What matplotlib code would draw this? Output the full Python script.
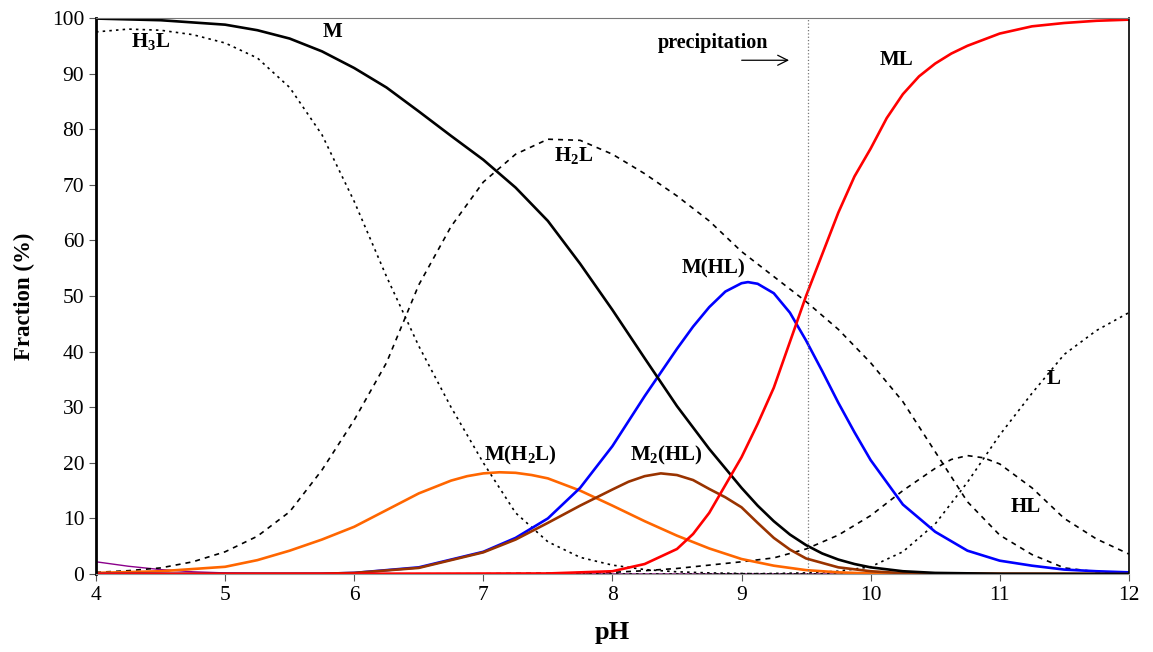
import numpy as np
import matplotlib.pyplot as plt

plt.rcParams['font.family'] = 'Liberation Serif'
plt.rcParams['mathtext.fontset'] = 'custom'
plt.rcParams['mathtext.rm'] = 'Liberation Serif:bold'
plt.rcParams['mathtext.it'] = 'Liberation Serif:bold'
plt.rcParams['mathtext.bf'] = 'Liberation Serif:bold'

# common pH grid (ligand species)
pH = [4.0, 4.25, 4.5, 4.75, 5.0, 5.25, 5.5, 5.75, 6.0, 6.25, 6.5, 6.75, 7.0,
      7.25, 7.5, 7.75, 8.0, 8.25, 8.5, 8.75, 9.0, 9.25, 9.5, 9.75, 10.0,
      10.25, 10.5, 10.75, 11.0, 11.25, 11.5, 11.75, 12.0]

H3L = [97.5, 98.0, 97.8, 97.0, 95.5, 92.8, 87.5, 79.0, 67.0, 53.5, 41.0, 30.0,
       20.0, 11.0, 5.8, 3.0, 1.6, 0.8, 0.4, 0.2, 0.1, 0, 0, 0, 0, 0, 0, 0, 0,
       0, 0, 0, 0]
H2L = [0.3, 0.6, 1.1, 2.2, 4.0, 6.8, 11.2, 18.7, 27.7, 38.0, 52.0, 62.5, 70.5,
       75.5, 78.2, 78.0, 75.5, 72.0, 68.0, 63.5, 58.0, 53.5, 49.0, 44.0, 38.0,
       31.0, 22.0, 13.0, 7.0, 3.5, 1.1, 0.4, 0.1]
L = [0, 0, 0, 0, 0, 0, 0, 0, 0, 0, 0, 0, 0, 0, 0, 0, 0, 0, 0, 0, 0.05, 0.1,
     0.2, 0.5, 1.3, 4.0, 9.0, 16.5, 25.0, 32.5, 39.5, 43.8, 47.0]
other = [2.2, 1.4, 0.8, 0.4, 0.2, 0.1, 0.05, 0, 0, 0, 0, 0, 0, 0, 0, 0, 0, 0,
         0, 0, 0, 0, 0, 0, 0, 0, 0, 0, 0, 0, 0, 0, 0]
zero = [0] * len(pH)

pH_HL = [4.0, 7.0, 7.5, 8.0, 8.25, 8.5, 8.75, 9.0, 9.25, 9.5, 9.75, 10.0,
         10.25, 10.5, 10.625, 10.75, 10.875, 11.0, 11.25, 11.5, 11.75, 12.0]
HL = [0, 0.05, 0.15, 0.3, 0.6, 1.0, 1.6, 2.2, 2.9, 4.5, 7.0, 10.5, 15.0, 19.0,
      20.6, 21.3, 20.9, 19.8, 15.5, 10.0, 6.3, 3.6]

# metal species
pH_M = [4.0, 4.5, 5.0, 5.25, 5.5, 5.75, 6.0, 6.25, 6.5, 6.75, 7.0, 7.25, 7.5,
        7.75, 8.0, 8.25, 8.5, 8.75, 9.0, 9.125, 9.25, 9.375, 9.5, 9.625,
        9.75, 9.875, 10.0, 10.25, 10.5, 11.0, 12.0]
M = [99.9, 99.6, 98.8, 97.8, 96.3, 94.0, 91.0, 87.5, 83.2, 78.8, 74.5, 69.5,
     63.5, 55.8, 47.5, 38.8, 30.2, 22.5, 15.5, 12.3, 9.5, 7.1, 5.2, 3.7, 2.6,
     1.8, 1.2, 0.5, 0.2, 0.05, 0]

pH_ML = [4.0, 7.5, 8.0, 8.25, 8.5, 8.625, 8.75, 8.875, 9.0, 9.125, 9.25, 9.5,
         9.75, 9.875, 10.0, 10.125, 10.25, 10.375, 10.5, 10.625, 10.75, 11.0,
         11.25, 11.5, 11.75, 12.0]
ML = [0, 0.1, 0.5, 1.8, 4.5, 7.2, 11.0, 16.0, 21.0, 27.0, 33.5, 50.0, 65.0,
      71.5, 76.5, 82.0, 86.3, 89.5, 91.8, 93.6, 95.0, 97.2, 98.5, 99.1, 99.5,
      99.7]

pH_MHL = [4.0, 5.75, 6.0, 6.5, 7.0, 7.25, 7.5, 7.75, 8.0, 8.25, 8.5, 8.625,
          8.75, 8.875, 9.0, 9.05, 9.125, 9.25, 9.375, 9.5, 9.625, 9.75, 9.875,
          10.0, 10.25, 10.5, 10.75, 11.0, 11.25, 11.5, 11.75, 12.0]
MHL = [0, 0.05, 0.2, 1.2, 4.0, 6.5, 10.0, 15.5, 23.0, 32.0, 40.5, 44.5, 48.0,
       50.8, 52.3, 52.5, 52.2, 50.5, 47.0, 42.0, 36.5, 30.8, 25.5, 20.5, 12.5,
       7.6, 4.2, 2.4, 1.5, 0.8, 0.5, 0.3]

pH_MH2L = [4.0, 4.5, 5.0, 5.25, 5.5, 5.75, 6.0, 6.25, 6.5, 6.75, 6.875, 7.0,
           7.125, 7.25, 7.375, 7.5, 7.75, 8.0, 8.25, 8.5, 8.75, 9.0, 9.25,
           9.5, 9.75, 10.0, 12.0]
MH2L = [0.2, 0.5, 1.3, 2.5, 4.2, 6.2, 8.5, 11.5, 14.5, 16.8, 17.6, 18.1, 18.3,
        18.2, 17.8, 17.2, 15.0, 12.3, 9.5, 6.9, 4.6, 2.7, 1.5, 0.7, 0.3, 0.1,
        0]

pH_M2HL = [4.0, 5.75, 6.0, 6.5, 7.0, 7.25, 7.5, 7.75, 8.0, 8.125, 8.25, 8.375,
           8.5, 8.625, 8.75, 8.875, 9.0, 9.125, 9.25, 9.375, 9.5, 9.75, 10.0,
           10.25, 10.5, 11.0, 12.0]
M2HL = [0, 0.05, 0.2, 1.1, 3.9, 6.2, 9.2, 12.3, 15.2, 16.6, 17.6, 18.1, 17.8,
        16.9, 15.3, 13.8, 12.0, 9.2, 6.5, 4.4, 2.8, 1.2, 0.5, 0.15, 0.05, 0, 0]

precip_pH = 9.515

fig = plt.figure(figsize=(11.53, 6.52), dpi=100)
ax = fig.add_axes([0.0833, 0.1196, 0.8957, 0.8528])

# near-zero minor species
ax.plot(pH, zero, color='#f4a0a0', lw=1.2)
ax.plot(pH[16:], zero[16:], color='#b8d8a0', lw=1.2)
ax.plot(pH, other, color='#8b008b', lw=1.0)

# ligand species
ax.plot(pH, H3L, color='black', lw=1.2, dashes=(1.5, 2.5))
ax.plot(pH, H2L, color='black', lw=1.2, dashes=(3, 3))
ax.plot(pH_HL, HL, color='black', lw=1.2, dashes=(3, 3))
ax.plot(pH, L, color='black', lw=1.2, dashes=(1.5, 2.5))

# metal species
ax.plot(pH_MH2L, MH2L, color='#ff6600', lw=1.9)
ax.plot(pH_MHL, MHL, color='#0000ff', lw=1.9)
ax.plot(pH_M2HL, M2HL, color='#993300', lw=1.9)
ax.plot(pH_M, M, color='black', lw=1.9)
ax.plot(pH_ML, ML, color='#ff0000', lw=1.9)

ax.axvline(precip_pH, color='#777777', lw=0.9, ls=':')
ax.annotate('', xy=(9.39, 92.4), xytext=(8.98, 92.4),
            arrowprops=dict(arrowstyle='->', color='black', lw=0.9,
                            mutation_scale=18))
ax.text(8.78, 95.5, 'precipitation', ha='center', va='center',
        fontsize=14.5, fontweight='bold')

labels = [('M', 5.83, 97.5), ('H$_3$L', 4.42, 95.7), ('H$_2$L', 7.70, 75.3),
          ('ML', 10.2, 92.5), ('M(HL)', 8.78, 55.0), ('L', 11.42, 35.0),
          ('HL', 11.2, 12.0), ('M(H$_2$L)', 7.29, 21.3),
          ('M$_2$(HL)', 8.42, 21.3)]
for txt, x, y in labels:
    ax.text(x, y, txt, ha='center', va='center', fontsize=15,
            fontweight='bold')

ax.set_xlim(4, 12)
ax.set_ylim(0, 100)
ax.set_xticks([4, 5, 6, 7, 8, 9, 10, 11, 12])
ax.set_yticks(range(0, 101, 10))
ax.tick_params(labelsize=15.5, length=5, width=0.8, color='#555555')
ax.set_xlabel('pH', fontsize=19, fontweight='bold', labelpad=12)
ax.set_ylabel('Fraction (%)', fontsize=16.5, fontweight='bold', labelpad=12)

ax.spines['left'].set_linewidth(2)
ax.spines['top'].set_color('#777777')
ax.spines['bottom'].set_color('#999999')
ax.spines['right'].set_linewidth(1.2)

fig.savefig('out.png', dpi=100)
